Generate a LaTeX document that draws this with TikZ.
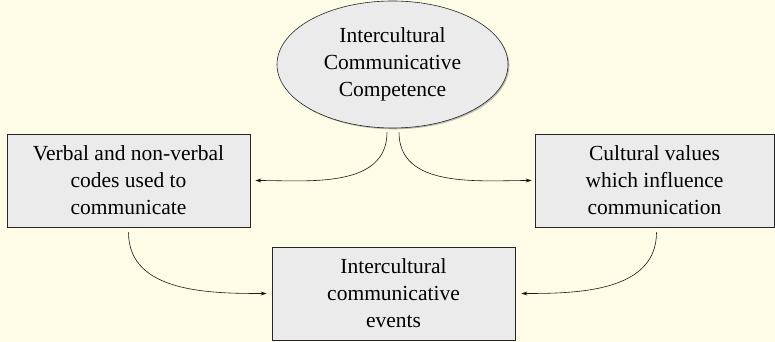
\documentclass[tikz,border=0pt]{standalone}
\usepackage{fontspec}
\setmainfont{Liberation Serif}
\usetikzlibrary{shapes.geometric,arrows.meta,shadows,calc}
\definecolor{bgyellow}{RGB}{254,251,230}
\definecolor{boxgray}{RGB}{235,235,235}
\tikzset{
  base/.style={draw=black!85, fill=boxgray, line width=0.6pt, align=center,
    font=\fontsize{21.5}{27}\selectfont, inner sep=0pt,
    drop shadow={shadow xshift=1.3pt, shadow yshift=-1.3pt, fill=black!45, opacity=0.6}},
  rbox/.style={base, rectangle, minimum height=93pt},
  ell/.style={base, ellipse, minimum width=231pt, minimum height=127pt},
  arr/.style={-{Stealth[length=6pt,width=4pt]}, line width=0.6pt, black!90}
}
\begin{document}
\begin{tikzpicture}[x=1pt,y=1pt]
\fill[bgyellow] (0,0) rectangle (775,342);
\useasboundingbox (0,0) rectangle (775,342);
\node[ell] (e) at (392.5,277.5) {Intercultural\\Communicative\\Competence};
\node[rbox, minimum width=243pt] (l) at (128.5,161.5) {Verbal and non-verbal\\codes used to\\communicate};
\node[rbox, minimum width=239pt] (r) at (654.5,161.5) {Cultural values\\which influence\\communication};
\node[rbox, minimum width=243pt] (b) at (393.5,48.5) {Intercultural\\communicative\\events};
\coordinate (s1) at ($(e.south)+(-5.5,-4)$);
\coordinate (s2) at ($(e.south)+(6.5,-4)$);
\coordinate (s3) at ($(l.south)+(0,-5)$);
\coordinate (s4) at ($(r.south)+(2,-5)$);
\draw[arr, shorten >=5pt] (s1) to[out=-90,in=0] (l.east);
\draw[arr, shorten >=3pt] (s2) to[out=-90,in=180] (r.west);
\draw[arr, shorten >=5pt] (s3) to[out=-90,in=180] (b.west);
\draw[arr, shorten >=6pt] (s4) to[out=-90,in=0] (b.east);
\end{tikzpicture}
\end{document}
